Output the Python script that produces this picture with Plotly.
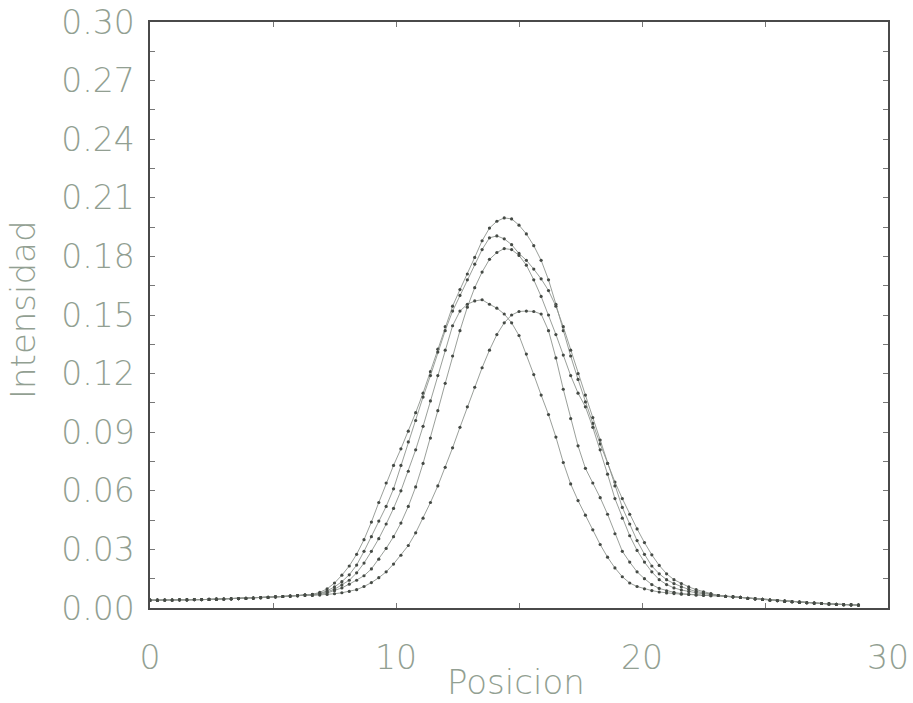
import plotly.graph_objects as go

# Sample positions (Posicion)
posicion = [
    0.0, 0.3, 0.6, 0.9, 1.2, 1.5, 1.8, 2.1, 2.4, 2.7, 3.0, 3.3, 3.6, 3.9, 4.2, 4.5, 4.8, 5.1, 5.4, 5.7,
    6.0, 6.3, 6.6, 6.9, 7.2, 7.5, 7.8, 8.1, 8.4, 8.7, 9.0, 9.3, 9.6, 9.9, 10.2, 10.5, 10.8, 11.1, 11.4, 11.7,
    12.0, 12.3, 12.6, 12.9, 13.2, 13.5, 13.8, 14.1, 14.4, 14.7, 15.0, 15.3, 15.6, 15.9, 16.2, 16.5, 16.8, 17.1, 17.4, 17.7,
    18.0, 18.3, 18.6, 18.9, 19.2, 19.5, 19.8, 20.1, 20.4, 20.7, 21.0, 21.3, 21.6, 21.9, 22.2, 22.5, 22.8, 23.1, 23.4, 23.7,
    24.0, 24.3, 24.6, 24.9, 25.2, 25.5, 25.8, 26.1, 26.4, 26.7, 27.0, 27.3, 27.6, 27.9, 28.2, 28.5, 28.8,
]

# Shared flat baseline on the left (x = 0 .. 6.3)
base_left = [
    0.0040, 0.0040, 0.0041, 0.0041, 0.0042, 0.0042, 0.0043, 0.0043, 0.0044, 0.0045, 0.0046,
    0.0047, 0.0048, 0.0050, 0.0051, 0.0053, 0.0055, 0.0057, 0.0059, 0.0061, 0.0063, 0.0066,
]

# Peak regions (x = 6.6 .. 22.8)
curva_a = [
    0.0070, 0.0080, 0.0098, 0.0128, 0.0168, 0.0215, 0.0275, 0.0350, 0.0440, 0.0540,
    0.0640, 0.0730, 0.0815, 0.0905, 0.1000, 0.1100, 0.1210, 0.1325, 0.1440, 0.1545,
    0.1630, 0.1710, 0.1795, 0.1880, 0.1945, 0.1980, 0.1997, 0.1992, 0.1960, 0.1915,
    0.1855, 0.1780, 0.1680, 0.1555, 0.1420, 0.1290, 0.1170, 0.1055, 0.0945, 0.0840,
    0.0740, 0.0645, 0.0560, 0.0480, 0.0405, 0.0335, 0.0272, 0.0218, 0.0175, 0.0145,
    0.0125, 0.0108, 0.0094, 0.0083, 0.0074,
]
curva_b = [
    0.0068, 0.0075, 0.0088, 0.0108, 0.0135, 0.0170, 0.0220, 0.0290, 0.0365, 0.0445,
    0.0520, 0.0610, 0.0730, 0.0850, 0.0960, 0.1080, 0.1190, 0.1310, 0.1420, 0.1520,
    0.1600, 0.1680, 0.1760, 0.1835, 0.1895, 0.1905, 0.1890, 0.1860, 0.1815, 0.1780,
    0.1735, 0.1685, 0.1625, 0.1545, 0.1440, 0.1320, 0.1200, 0.1090, 0.0975, 0.0860,
    0.0740, 0.0625, 0.0515, 0.0430, 0.0345, 0.0275, 0.0215, 0.0175, 0.0145, 0.0125,
    0.0108, 0.0095, 0.0085, 0.0077, 0.0071,
]
curva_c = [
    0.0066, 0.0070, 0.0077, 0.0088, 0.0103, 0.0122, 0.0142, 0.0165, 0.0200, 0.0250,
    0.0305, 0.0365, 0.0435, 0.0520, 0.0620, 0.0740, 0.0870, 0.1010, 0.1150, 0.1290,
    0.1420, 0.1540, 0.1640, 0.1720, 0.1785, 0.1820, 0.1840, 0.1835, 0.1805, 0.1755,
    0.1680, 0.1595, 0.1500, 0.1400, 0.1295, 0.1190, 0.1100, 0.1030, 0.0925, 0.0810,
    0.0685, 0.0560, 0.0460, 0.0370, 0.0295, 0.0235, 0.0185, 0.0145, 0.0120, 0.0103,
    0.0092, 0.0084, 0.0078, 0.0073, 0.0069,
]
curva_d = [
    0.0068, 0.0074, 0.0083, 0.0096, 0.0118, 0.0142, 0.0180, 0.0230, 0.0290, 0.0355,
    0.0430, 0.0510, 0.0600, 0.0700, 0.0810, 0.0930, 0.1060, 0.1190, 0.1320, 0.1445,
    0.1520, 0.1555, 0.1572, 0.1578, 0.1555, 0.1535, 0.1505, 0.1460, 0.1395, 0.1300,
    0.1195, 0.1090, 0.0990, 0.0875, 0.0745, 0.0635, 0.0550, 0.0475, 0.0400, 0.0325,
    0.0260, 0.0205, 0.0160, 0.0128, 0.0110, 0.0098, 0.0089, 0.0082, 0.0077, 0.0074,
    0.0071, 0.0069, 0.0067, 0.0065, 0.0063,
]
curva_e = [
    0.0064, 0.0066, 0.0069, 0.0073, 0.0078, 0.0085, 0.0094, 0.0110, 0.0130, 0.0155,
    0.0185, 0.0225, 0.0270, 0.0320, 0.0385, 0.0460, 0.0540, 0.0625, 0.0720, 0.0820,
    0.0925, 0.1030, 0.1130, 0.1230, 0.1320, 0.1400, 0.1460, 0.1500, 0.1518, 0.1520,
    0.1518, 0.1505, 0.1420, 0.1280, 0.1120, 0.0970, 0.0830, 0.0715, 0.0640, 0.0565,
    0.0480, 0.0380, 0.0290, 0.0235, 0.0185, 0.0150, 0.0120, 0.0100, 0.0088, 0.0080,
    0.0074, 0.0070, 0.0067, 0.0065, 0.0063,
]

# Shared tail on the right (x = 23.1 .. 28.8)
base_right = [
    0.0064, 0.0060, 0.0057, 0.0054, 0.0050, 0.0047, 0.0044, 0.0041, 0.0038, 0.0035,
    0.0032, 0.0030, 0.0027, 0.0025, 0.0023, 0.0021, 0.0019, 0.0017, 0.0016, 0.0015,
]

y_ticks = [0.00, 0.03, 0.06, 0.09, 0.12, 0.15, 0.18, 0.21, 0.24, 0.27, 0.30]
y_labels = ["0.00", "0.03", "0.06", "0.09", "0.12", "0.15", "0.18", "0.21", "0.24", "0.27", "0.30"]
x_ticks = [0, 10, 20, 30]
x_labels = ["0", "10", "20", "30"]

curves = [curva_a, curva_b, curva_c, curva_d, curva_e]

LINE = "#8e948e"
DOT = "#454a45"
TXT = "#929f92"
FONT = "DejaVu Sans"
tfont = dict(family=FONT, size=33, color=TXT, weight=200)
titlefont = dict(family=FONT, size=34, color=TXT, weight=200)

fig = go.Figure()
for c in curves:
    fig.add_trace(go.Scatter(
        x=posicion, y=base_left + c + base_right,
        mode="lines+markers",
        line=dict(color=LINE, width=0.9),
        marker=dict(color=DOT, size=3.2),
        showlegend=False,
    ))

axis_common = dict(
    showgrid=False, zeroline=False, showline=True, linecolor="#4a4a4a", linewidth=1.5,
    mirror="ticks", ticks="inside", ticklen=5, tickcolor="#777777", tickwidth=1,
    tickfont=tfont, automargin=False, ticklabeloverflow="allow",
)

fig.update_xaxes(
    range=[0, 30], tickvals=x_ticks, ticktext=x_labels,
    minor=dict(dtick=5, ticks="inside", ticklen=5, tickcolor="#777777"),
    ticklabelstandoff=20,
    **axis_common,
)
fig.update_yaxes(
    range=[0, 0.30], tickvals=y_ticks, ticktext=y_labels,
    minor=dict(dtick=0.015, ticks="inside", ticklen=5, tickcolor="#777777"),
    ticklabelstandoff=7,
    **axis_common,
)

# Page body margin is removed (post_script), so figure pixels == screen pixels.
L, R, T, B = 150, 25, 22, 95
pw, ph = 913 - L - R, 703 - T - B
fig.add_annotation(text="Intensidad", textangle=-90, xref="paper", yref="paper",
                   x=(23 - L) / pw, y=(703 - B - 310) / ph,
                   xanchor="center", yanchor="middle", showarrow=False, font=titlefont)
fig.add_annotation(text="Posicion", xref="paper", yref="paper",
                   x=(516 - L) / pw, y=(703 - B - 682) / ph,
                   xanchor="center", yanchor="middle", showarrow=False, font=titlefont)

fig.update_layout(
    width=913, height=703,
    margin=dict(l=L, r=R, t=T, b=B),
    plot_bgcolor="white", paper_bgcolor="white",
)

fig.write_html("out.html", config={"displayModeBar": False},
               post_script="document.body.style.margin='0px';")
